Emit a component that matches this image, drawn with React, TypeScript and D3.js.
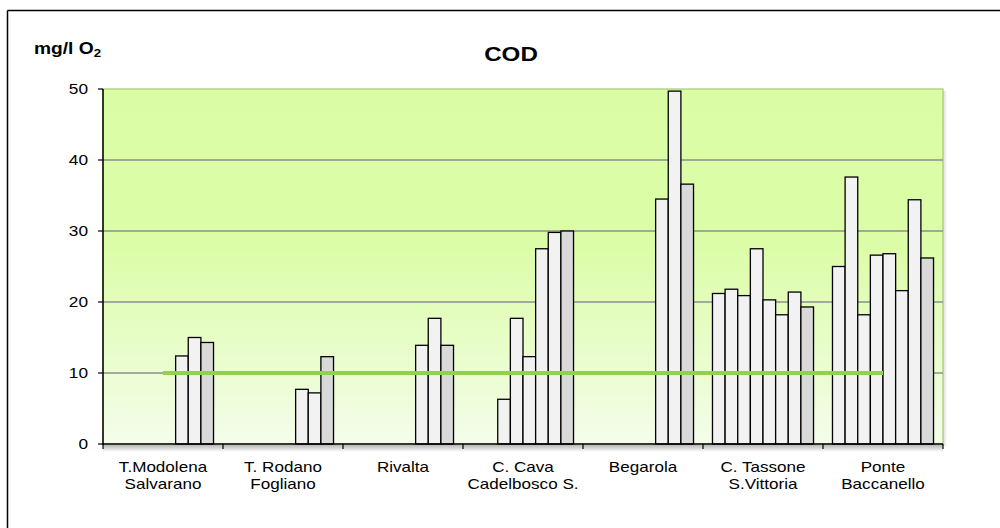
import React from "react";
import * as d3 from "d3";

// Monitoring stations (x categories), two-line labels
const stations = [
  ["T.Modolena", "Salvarano"],
  ["T. Rodano", "Fogliano"],
  ["Rivalta", ""],
  ["C. Cava", "Cadelbosco S."],
  ["Begarola", ""],
  ["C. Tassone", "S.Vittoria"],
  ["Ponte", "Baccanello"],
];

// COD readings (mg/l O2), eight sampling slots per station; null = no sample
const codTModolena = [null, null, null, null, null, 12.4, 15.0, 14.3];
const codTRodano = [null, null, null, null, null, 7.7, 7.2, 12.3];
const codRivalta = [null, null, null, null, null, 13.9, 17.7, 13.9];
const codCCava = [null, null, 6.3, 17.7, 12.3, 27.5, 29.8, 30.0];
const codBegarola = [null, null, null, null, null, 34.5, 49.7, 36.6];
const codCTassone = [21.2, 21.8, 20.9, 27.5, 20.3, 18.2, 21.4, 19.3];
const codPonte = [25.0, 37.6, 18.2, 26.6, 26.8, 21.6, 34.4, 26.2];

const codByStation = [
  codTModolena,
  codTRodano,
  codRivalta,
  codCCava,
  codBegarola,
  codCTassone,
  codPonte,
];

// Reference limit drawn as a line across station centres
const limitValues = [10, 10, 10, 10, 10, 10, 10];

const yTicks = [0, 10, 20, 30, 40, 50];
const slots = [0, 1, 2, 3, 4, 5, 6, 7];

const W = 1000;
const H = 528;
const left = 103;
const right = 943;
const top = 89;
const bottom = 444;

// horizontal stretch applied to all chart text (wide rendering)
const stretch = (x: number, s: number) => `translate(${x},0) scale(${s},1)`;

export default function App() {
  const x = d3
    .scaleBand<number>()
    .domain(stations.map((_, i) => i))
    .range([left, right]);
  const inner = d3
    .scaleBand<number>()
    .domain(slots)
    .range([0, x.bandwidth()])
    .paddingInner(0)
    .paddingOuter(0.75);
  const y = d3.scaleLinear().domain([0, 50]).range([bottom, top]);

  const limitLine = d3
    .line<number>()
    .x((_, i) => (x(i) as number) + x.bandwidth() / 2)
    .y((d) => y(d));

  const font = "Arial, 'Liberation Sans', sans-serif";

  return (
    <svg
      width={W}
      height={H}
      style={{ position: "absolute", left: 0, top: 0, display: "block" }}
      fontFamily={font}
    >
      <defs>
        <linearGradient id="plotBg" x1="0" y1="0" x2="0" y2="1">
          <stop offset="0" stopColor="#dafda4" />
          <stop offset="0.45" stopColor="#dcfda8" />
          <stop offset="1" stopColor="#f4fdea" />
        </linearGradient>
        <linearGradient id="axisShadow" x1="0" y1="0" x2="0" y2="1">
          <stop offset="0" stopColor="#000" stopOpacity="0.28" />
          <stop offset="1" stopColor="#000" stopOpacity="0" />
        </linearGradient>
        <linearGradient id="sideShadow" x1="0" y1="0" x2="1" y2="0">
          <stop offset="0" stopColor="#000" stopOpacity="0.15" />
          <stop offset="1" stopColor="#000" stopOpacity="0" />
        </linearGradient>
      </defs>

      <rect width={W} height={H} fill="#fff" />
      {/* outer chart frame */}
      <line x1={7.5} y1={10.5} x2={W} y2={10.5} stroke="#000" strokeWidth={1.5} />
      <line x1={7.5} y1={10.5} x2={7.5} y2={H} stroke="#000" strokeWidth={1.5} />

      {/* plot area */}
      <rect x={right} y={top + 2} width={4} height={bottom - top} fill="url(#sideShadow)" />
      <rect
        x={left}
        y={top}
        width={right - left}
        height={bottom - top}
        fill="url(#plotBg)"
        stroke="#a8c878"
        strokeWidth={1.2}
      />

      {/* gridlines */}
      {yTicks
        .filter((t) => t > 0 && t < 50)
        .map((t) => (
          <line
            key={t}
            x1={left}
            x2={right}
            y1={y(t)}
            y2={y(t)}
            stroke="#8e8e8e"
            strokeWidth={1.3}
          />
        ))}

      {/* bars */}
      {codByStation.map((vals, si) =>
        vals.map((v, k) =>
          v == null ? null : (
            <rect
              key={`${si}-${k}`}
              x={(x(si) as number) + (inner(k) as number)}
              y={y(v)}
              width={inner.bandwidth()}
              height={bottom - y(v)}
              fill={k === 7 ? "#d9d9d9" : "#f2f2f2"}
              stroke="#000"
              strokeWidth={1.3}
            />
          )
        )
      )}

      {/* limit line */}
      <path
        d={limitLine(limitValues) as string}
        fill="none"
        stroke="#92d050"
        strokeWidth={4}
      />

      {/* x axis with shadow */}
      <rect x={left} y={bottom + 1} width={right - left} height={7} fill="url(#axisShadow)" />
      <line x1={left} x2={right} y1={bottom} y2={bottom} stroke="#000" strokeWidth={1.5} />
      {d3.range(stations.length + 1).map((i) => {
        const xx = i === stations.length ? right : (x(i) as number);
        return (
          <line key={i} x1={xx} x2={xx} y1={bottom} y2={bottom + 5} stroke="#000" strokeWidth={1.2} />
        );
      })}

      {/* y axis */}
      <line x1={left} x2={left} y1={top} y2={bottom + 1} stroke="#000" strokeWidth={1.5} />
      {yTicks.map((t) => (
        <g key={t}>
          <line x1={left - 5} x2={left} y1={y(t)} y2={y(t)} stroke="#000" strokeWidth={1.2} />
          <text
            transform={stretch(88, 1.15)}
            x={0}
            y={y(t) + 5.5}
            textAnchor="end"
            fontSize={15}
            fill="#000"
          >
            {t}
          </text>
        </g>
      ))}

      {/* category labels */}
      {stations.map((lines, i) => {
        const cx = (x(i) as number) + x.bandwidth() / 2;
        return (
          <text
            key={i}
            transform={stretch(cx, 1.22)}
            textAnchor="middle"
            fontSize={14}
            fill="#000"
          >
            <tspan x={0} y={472}>
              {lines[0]}
            </tspan>
            {lines[1] && (
              <tspan x={0} y={489}>
                {lines[1]}
              </tspan>
            )}
          </text>
        );
      })}

      {/* titles */}
      <text transform={stretch(511, 1.15)} x={0} y={61} textAnchor="middle" fontSize={21} fontWeight="bold">
        COD
      </text>
      <text transform={stretch(34, 1.2)} x={0} y={54} fontSize={16} fontWeight="bold">
        mg/l O<tspan fontSize={11} dy={3}>2</tspan>
      </text>
    </svg>
  );
}
